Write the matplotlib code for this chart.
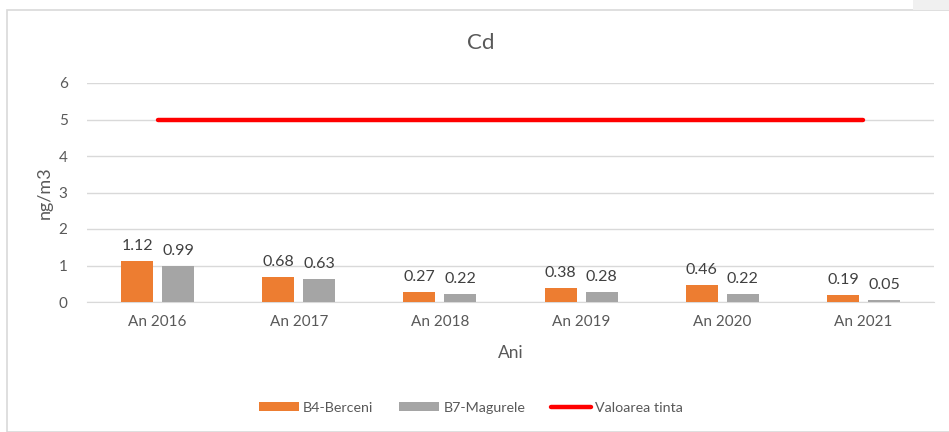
import matplotlib
matplotlib.use("Agg")
import matplotlib.pyplot as plt
from matplotlib.patches import Rectangle
import numpy as np

categories = ["An 2016", "An 2017", "An 2018", "An 2019", "An 2020", "An 2021"]
berceni = [1.12, 0.68, 0.27, 0.38, 0.46, 0.19]
magurele = [0.99, 0.63, 0.22, 0.28, 0.22, 0.05]
target = [5, 5, 5, 5, 5, 5]

plt.rcParams['font.family'] = ['Lato', 'DejaVu Sans']
txt = '#595959'

fig = plt.figure(figsize=(9.49, 4.32), dpi=100)
# chart border
fig.patches.append(Rectangle((7/949, 0), 1.0, 1 - 10/432, transform=fig.transFigure,
                             fill=False, edgecolor='#d9d9d9', lw=1.2))
fig.patches.append(Rectangle((913/949, 1 - 10/432), 36/949, 10/432, transform=fig.transFigure,
                             facecolor='#f0f0f0', edgecolor='none'))

ax = fig.add_axes([87/949, 1 - 302/432, (934-87)/949, (302-83)/432])
x = np.arange(len(categories))
w = 0.227
off = 0.145
b1 = ax.bar(x - off, berceni, w, color='#ed7d31', label='B4-Berceni', zorder=3)
b2 = ax.bar(x + off, magurele, w, color='#a5a5a5', label='B7-Magurele', zorder=3)
ln, = ax.plot(x, target, color='#ff0000', lw=3.2, solid_capstyle='round', label='Valoarea tinta', zorder=4)

for bars, vals in ((b1, berceni), (b2, magurele)):
    for r, v in zip(bars, vals):
        ax.text(r.get_x() + r.get_width()/2, v + 0.22, f"{v:.2f}", ha='center', va='bottom',
                fontsize=11.5, color='#404040')

ax.set_xlim(-0.5, len(categories) - 0.5)
ax.set_ylim(0, 6)
ax.set_yticks(range(0, 7))
ax.yaxis.grid(True, color='#d9d9d9', lw=1, zorder=0)
ax.set_axisbelow(True)
for s in ['top', 'right', 'left']:
    ax.spines[s].set_visible(False)
ax.spines['bottom'].set_color('#d9d9d9')
ax.tick_params(axis='both', length=0, labelsize=11, colors=txt)
ax.tick_params(axis='y', pad=14)
ax.tick_params(axis='x', pad=9)
ax.set_xticks(x)
ax.set_xticklabels(categories)
ax.set_xlabel('Ani', fontsize=12.5, color=txt, labelpad=12)
ax.set_ylabel('ng/m3', fontsize=13, color=txt, labelpad=4)
fig.text(481/949, 1 - 43/432, 'Cd', fontsize=16, color=txt, ha='center', va='center')

fig.legend([b1, b2, ln], ['B4-Berceni', 'B7-Magurele', 'Valoarea tinta'], loc='center',
           bbox_to_anchor=(471/949, 1 - 408/432), ncol=3, frameon=False,
           fontsize=10.3, labelcolor=txt, handlelength=2.8, handleheight=0.6, columnspacing=1.8,
           handletextpad=0.3)

fig.savefig('out.png', dpi=100)
